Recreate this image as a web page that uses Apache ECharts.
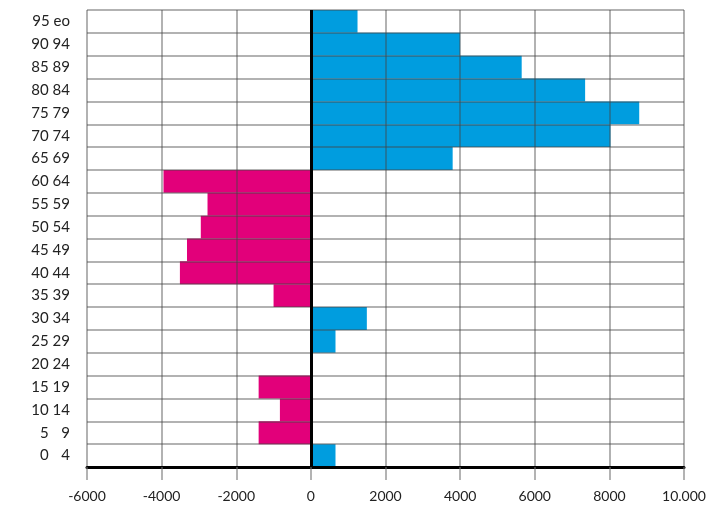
<!DOCTYPE html>
<html>
<head>
<meta charset="utf-8">
<script src="https://cdn.jsdelivr.net/npm/echarts@6/dist/echarts.min.js"></script>
<style>html,body{margin:0;padding:0;background:#fff}#c{width:711px;height:508px}</style>
</head>
<body>
<div id="c"></div>
<script>
const categories = ["95 eo","90 94","85 89","80 84","75 79","70 74","65 69","60 64","55 59","50 54","45 49","40 44","35 39","30 34","25 29","20 24","15 19","10 14","5 \u20079","0 \u20074"];
const values = [1250,4000,5650,7350,8800,8030,3800,-3950,-2770,-2950,-3320,-3510,-1000,1500,660,0,-1400,-830,-1400,660];
const xTicks = {min:-6000, max:10000, interval:2000};
const posColor = "#009ddf";
const negColor = "#e2007a";
const font = "Lato, 'Noto Sans', sans-serif";

const chart = echarts.init(document.getElementById('c'));
chart.setOption({
  animation:false,
  grid:{left:87,right:27,top:10,bottom:41,containLabel:false},
  xAxis:{
    type:'value', min:xTicks.min, max:xTicks.max, interval:xTicks.interval, z:3,
    axisLine:{show:true,lineStyle:{color:'#000',width:3}},
    axisTick:{show:true,length:13,lineStyle:{color:'rgba(110,110,110,0.7)',width:1.5}},
    splitLine:{show:true,lineStyle:{color:'rgba(70,70,70,0.55)',width:1.5}},
    axisLabel:{margin:22,fontSize:14,color:'#222',fontFamily:font,
      formatter:v=>v===10000?'10.000':String(v)}
  },
  yAxis:{
    type:'category', data:categories, inverse:true, z:3,
    axisLine:{show:false}, axisTick:{show:false},
    splitLine:{show:true,lineStyle:{color:'rgba(70,70,70,0.55)',width:1.5}},
    axisLabel:{margin:17,fontSize:15,color:'#222',fontFamily:font}
  },
  series:[{
    type:'bar', data:values, barCategoryGap:'0%',
    itemStyle:{color:p=>p.value<0?negColor:posColor},
    markLine:{silent:true,symbol:'none',label:{show:false},
      lineStyle:{color:'#000',width:3,type:'solid'},
      data:[{xAxis:0}]}
  }]
});
</script>
</body>
</html>
